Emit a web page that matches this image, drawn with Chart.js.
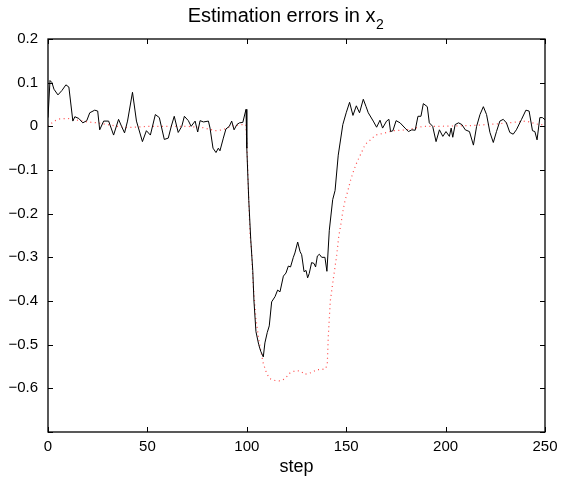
<!DOCTYPE html>
<html>
<head>
<meta charset="utf-8">
<script src="https://cdn.jsdelivr.net/npm/chart.js"></script>
<style>
  html, body { margin: 0; padding: 0; background: #fff; }
  #wrap { width: 571px; height: 478px; }
</style>
</head>
<body>
<div id="wrap"><canvas id="errChart"></canvas></div>
<script>
// --- data ---
const titleMain = 'Estimation errors in x';
const titleSub = '2';
const xLabel = 'step';
const xTicks = [0, 50, 100, 150, 200, 250];
const yTicks = [0.2, 0.1, 0, -0.1, -0.2, -0.3, -0.4, -0.5, -0.6, -0.7];

// solid black line (estimate)
const blackSteps = [0, 1, 2, 3, 5, 7, 9, 10.5, 12.5, 13.5, 15.5, 17.5, 19.5, 21, 23.5, 25, 26, 28, 30.5, 33,
  35.5, 37, 38.5, 40, 42.5, 44.5, 47.5, 49.5, 51.5, 54, 56, 58.5, 60.5, 62, 63.5, 65.5, 67.3, 68.6, 70.6, 72,
  74, 75.3, 76.5, 78.2, 80.7, 81.5, 83, 84.5, 85.7, 86.5, 88.2, 89.5, 91.2, 92.4, 93.6, 95, 96.3, 98, 99.6, 100,
  101, 102, 103, 103.6, 104.6, 106, 107, 108.3, 109.1, 110.3, 111.3, 112.5, 114.2, 115.5, 116.7, 118.4, 119.7, 120.9, 122, 123.4,
  124.2, 125.6, 126.8, 127.6, 128.8, 129.8, 130.6, 131.4, 132.6, 133.8, 134.6, 135.5, 136.5, 137.7, 139.3, 140.3, 141.5, 143.2, 144.4, 146,
  148.3, 150, 151.7, 153.4, 155.1, 156.7, 158.6, 160, 161.1, 163.6, 165.3, 167, 168.3, 170.3, 171.5, 172.3, 173.5, 175.1, 177.1, 179.6,
  181.3, 183, 184.7, 186.1, 187.6, 188.8, 190.8, 191.8, 193.5, 195.2, 196.9, 198.6, 200.2, 201.9, 202.8, 203.6, 204.8, 206.5, 208.2, 209.9,
  212, 214, 215.6, 217.3, 219, 220.6, 222.3, 224, 225.6, 227.3, 229, 230.6, 232.3, 234, 235.6, 238.2, 240.4, 242, 243.7, 244.9,
  246, 247.4, 248.7, 250];
const blackValues = [0.02, 0.105, 0.1, 0.085, 0.072, 0.082, 0.095, 0.09, 0.012, 0.022, 0.018, 0.008, 0.013, 0.031, 0.037, 0.035, -0.008, 0.012, 0.012, -0.02,
  0.016, 0.0, -0.015, 0.012, 0.078, 0.012, -0.035, -0.01, -0.02, 0.027, 0.02, -0.03, -0.027, 0.0, 0.023, -0.014, 0.0, 0.023, 0.013, 0.0,
  0.012, -0.013, 0.013, 0.01, 0.012, -0.004, -0.05, -0.06, -0.05, -0.056, -0.027, -0.006, 0.0, 0.012, -0.008, 0.004, 0.008, 0.009, 0.039, -0.05,
  -0.17, -0.26, -0.33, -0.4, -0.47, -0.5, -0.515, -0.528, -0.496, -0.472, -0.457, -0.402, -0.39, -0.375, -0.379, -0.343, -0.336, -0.32, -0.322, -0.3,
  -0.29, -0.265, -0.287, -0.294, -0.333, -0.33, -0.347, -0.337, -0.312, -0.314, -0.322, -0.297, -0.293, -0.3, -0.3, -0.332, -0.238, -0.168, -0.147, -0.066,
  0.004, 0.031, 0.055, 0.025, 0.047, 0.031, 0.062, 0.045, 0.031, 0.012, -0.002, 0.014, -0.004, 0.012, 0.016, -0.012, -0.01, 0.013, 0.008, -0.004,
  -0.012, -0.008, -0.009, 0.023, 0.023, 0.052, 0.045, 0.008, 0.0, -0.035, -0.008, -0.023, -0.012, -0.023, -0.004, -0.025, 0.004, 0.008, 0.004, -0.008,
  -0.012, -0.043, 0.0, 0.027, 0.045, 0.027, -0.014, -0.037, -0.012, 0.012, 0.016, 0.008, -0.014, -0.018, -0.008, 0.016, 0.037, 0.035, -0.01, -0.012,
  -0.031, 0.02, 0.02, 0.015];

// dotted red line
const redSteps = [0, 3, 6, 10, 15, 20, 25, 30, 35, 40, 50, 60, 70, 78, 84, 88, 92, 97, 99.5, 100,
  100.8, 101.6, 102.4, 103.2, 104.6, 105.8, 106.9, 108.3, 110, 111.7, 114.2, 116.7, 119.2, 121.7, 124.2, 125.9, 127.6, 128.8, 131, 133.2,
  135.2, 137.7, 139.7, 140.5, 141, 142, 143.5, 145.3, 146.2, 147.4, 148.3, 149.5, 150.7, 152.1, 153.8, 155.4, 157.5, 159.6, 162.2, 164.7,
  168.9, 173.7, 180.4, 188.8, 197, 214, 227, 240.4, 247, 250];
const redValues = [0.0, 0.012, 0.017, 0.018, 0.014, 0.01, 0.008, 0.004, 0.0, -0.003, 0.0, 0.0, 0.0, -0.003, -0.01, -0.008, 0.0, 0.004, 0.004, -0.035,
  -0.144, -0.246, -0.285, -0.363, -0.441, -0.48, -0.511, -0.543, -0.566, -0.578, -0.582, -0.583, -0.578, -0.565, -0.56, -0.56, -0.562, -0.568, -0.566, -0.563,
  -0.557, -0.557, -0.555, -0.543, -0.48, -0.4, -0.35, -0.293, -0.254, -0.222, -0.195, -0.168, -0.15, -0.125, -0.101, -0.082, -0.062, -0.041, -0.031, -0.02,
  -0.016, -0.01, -0.008, 0.0, 0.0, 0.002, 0.006, 0.012, 0.004, 0.004];

const toPoints = (xs, ys) => xs.map((x, i) => ({ x: x, y: ys[i] }));

function fmtY(v) {
    const r = Math.round(v * 10) / 10;
    if (r === 0) return '0';
    return r < 0 ? '\u2212' + Math.abs(r) : String(r);
}

const font = "'Liberation Sans', Arial, Helvetica, sans-serif";

// title with a real lowered subscript
const subTitle = {
    id: 'subTitle',
    afterDraw(chart) {
        const ctx = chart.ctx;
        ctx.save();
        ctx.fillStyle = '#000';
        ctx.textBaseline = 'alphabetic';
        ctx.font = '20px ' + font;
        const w1 = ctx.measureText(titleMain).width;
        ctx.font = '14px ' + font;
        const w2 = ctx.measureText(titleSub).width;
        // centred a little left of the plot middle, like the original
        const cx = (chart.chartArea.left + chart.chartArea.right) / 2 - 11;
        const x0 = cx - (w1 + w2) / 2;
        ctx.font = '20px ' + font;
        ctx.fillText(titleMain, x0, 22);
        ctx.font = '14px ' + font;
        ctx.fillText(titleSub, x0 + w1 + 0.5, 29);
        ctx.restore();
    }
};

// frame round the plot with ticks pointing inward on all four sides
const boxFrame = {
    id: 'boxFrame',
    afterDraw(chart) {
        const ctx = chart.ctx;
        const a = chart.chartArea;
        const xs = chart.scales.x, ys = chart.scales.y;
        const len = 5;
        ctx.save();
        ctx.strokeStyle = '#000';
        ctx.lineWidth = 1.3;
        ctx.strokeRect(a.left, a.top, a.right - a.left, a.bottom - a.top);
        ctx.lineWidth = 1;
        ctx.beginPath();
        xTicks.forEach(t => {
            const px = Math.round(xs.getPixelForValue(t)) + 0.5;
            ctx.moveTo(px, a.bottom); ctx.lineTo(px, a.bottom - len);
            ctx.moveTo(px, a.top); ctx.lineTo(px, a.top + len);
        });
        yTicks.forEach(t => {
            const py = Math.round(ys.getPixelForValue(t)) + 0.5;
            ctx.moveTo(a.left, py); ctx.lineTo(a.left + len, py);
            ctx.moveTo(a.right, py); ctx.lineTo(a.right - len, py);
        });
        ctx.stroke();
        ctx.restore();
    }
};

new Chart(document.getElementById('errChart'), {
    type: 'line',
    data: {
        datasets: [
            {
                label: 'estimate',
                data: toPoints(blackSteps, blackValues),
                borderColor: '#000',
                borderWidth: 1,
                pointRadius: 0,
                tension: 0
            },
            {
                label: 'reference',
                data: toPoints(redSteps, redValues),
                borderColor: 'rgba(255, 40, 40, 0.85)',
                borderWidth: 1.2,
                borderDash: [1, 3.5],
                pointRadius: 0,
                tension: 0
            }
        ]
    },
    options: {
        responsive: true,
        maintainAspectRatio: false,
        animation: false,
        layout: { padding: { left: 0, right: 26, top: 39, bottom: 0 } },
        plugins: {
            legend: { display: false },
            tooltip: { enabled: false },
            title: { display: false }
        },
        scales: {
            x: {
                type: 'linear',
                min: 0,
                max: 250,
                afterBuildTicks: s => { s.ticks = xTicks.map(v => ({ value: v })); },
                afterFit: s => { s.height = 46; },
                grid: { display: false, drawTicks: false },
                border: { display: false },
                ticks: {
                    color: '#000',
                    padding: 6,
                    maxRotation: 0,
                    font: { family: font, size: 15 }
                },
                title: {
                    display: true,
                    text: xLabel,
                    color: '#000',
                    padding: { top: 0, bottom: 0 },
                    font: { family: font, size: 18 }
                }
            },
            y: {
                type: 'linear',
                min: -0.7,
                max: 0.2,
                afterBuildTicks: s => { s.ticks = yTicks.map(v => ({ value: v })); },
                afterFit: s => { s.width = 48; },
                grid: { display: false, drawTicks: false },
                border: { display: false },
                ticks: {
                    color: '#000',
                    padding: 10,
                    font: { family: font, size: 15 },
                    callback: v => (Math.round(v * 10) === -7 ? '' : fmtY(v))
                }
            }
        }
    },
    plugins: [subTitle, boxFrame]
});
</script>
</body>
</html>
